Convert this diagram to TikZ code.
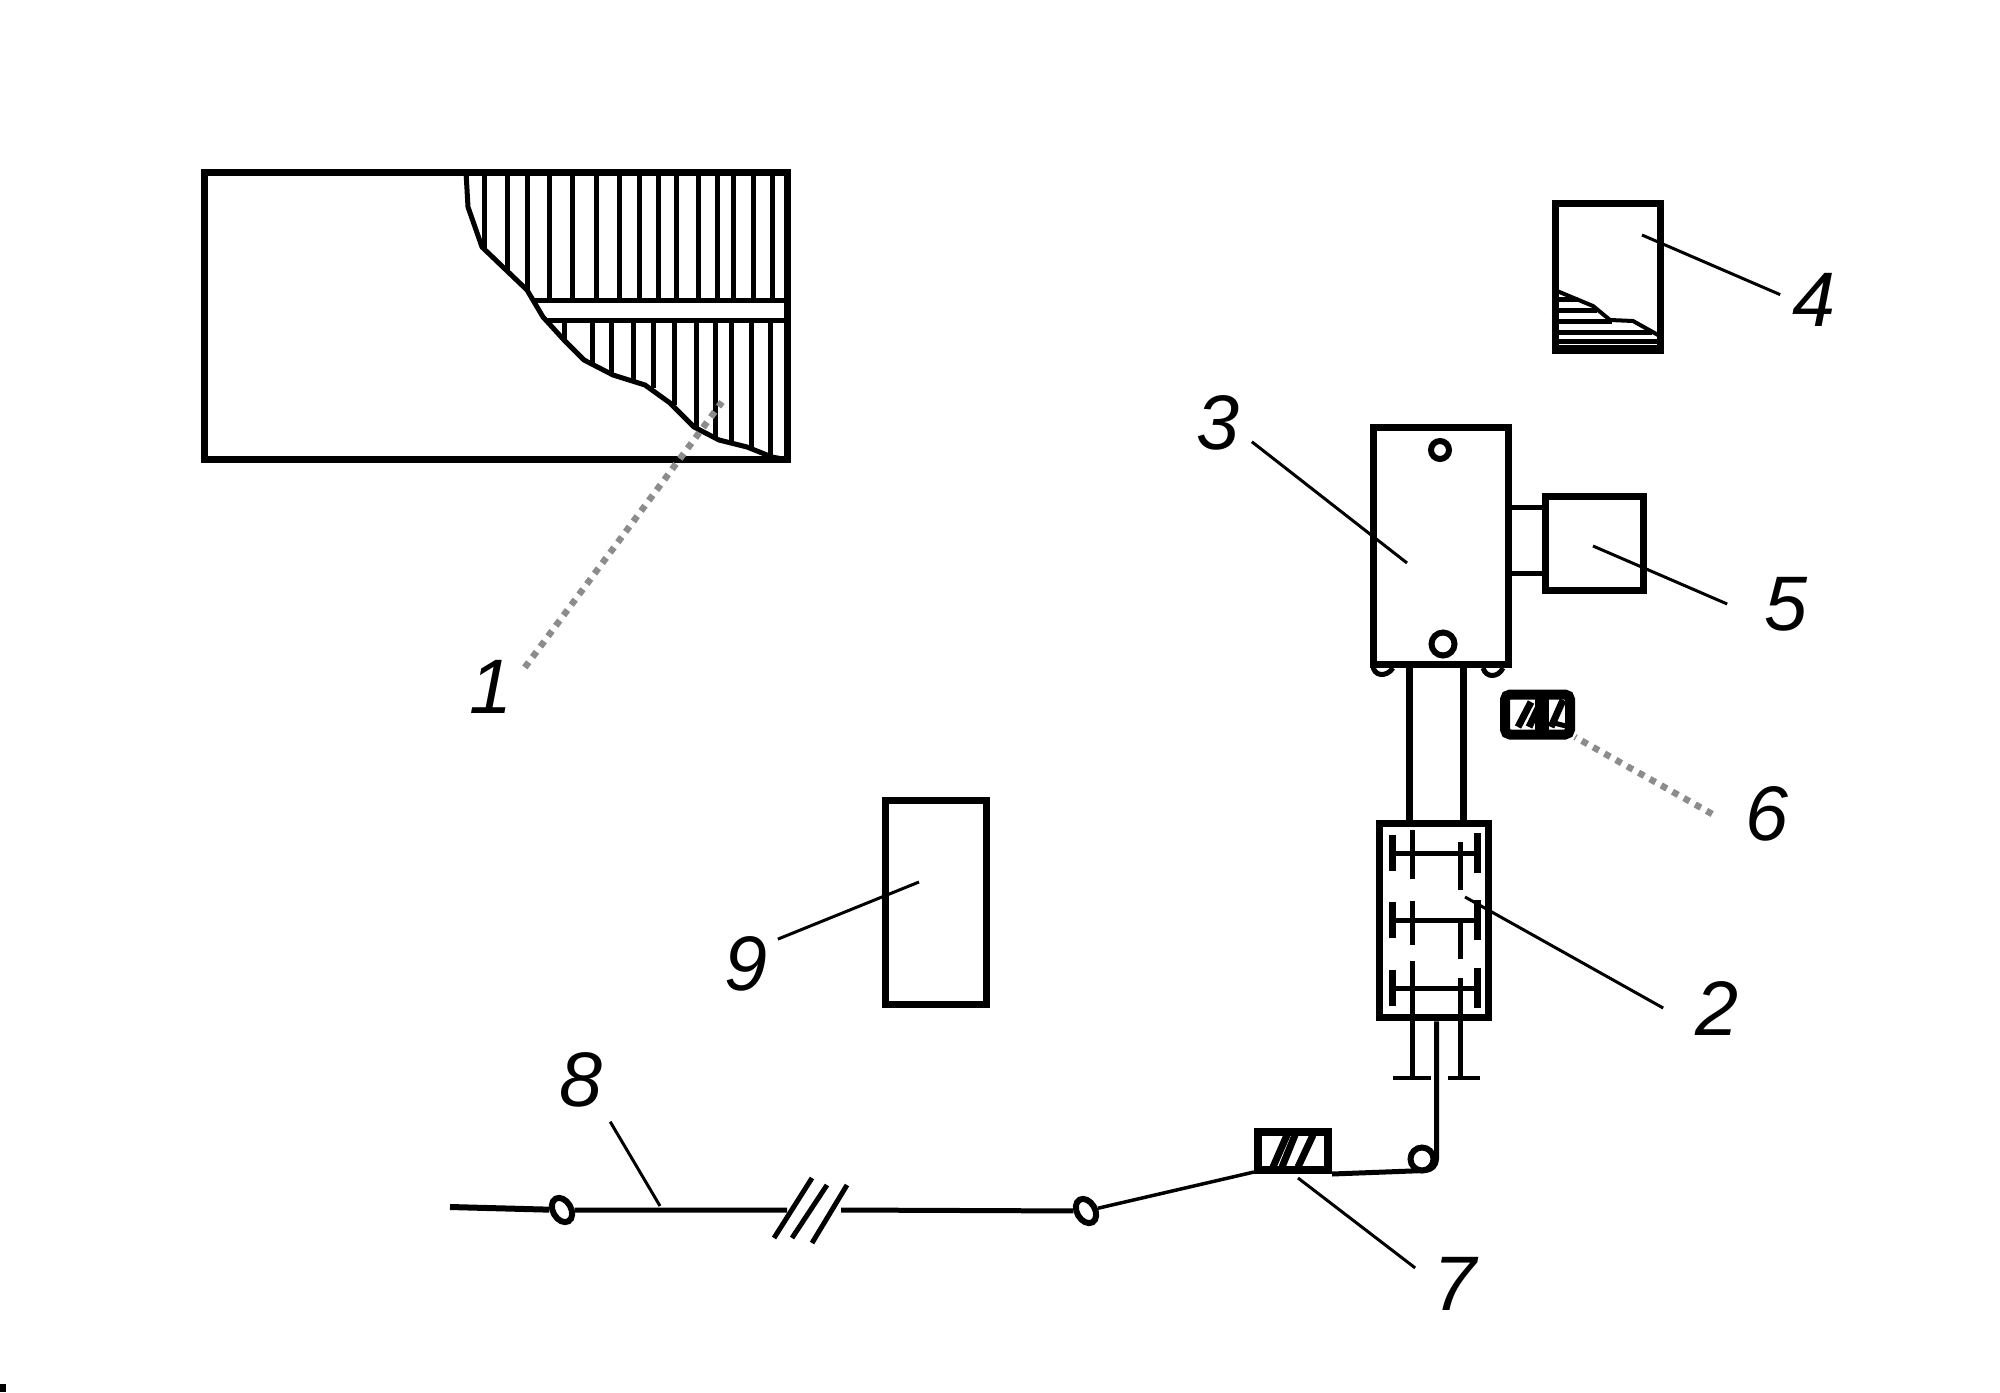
\documentclass[tikz,border=0pt]{standalone}
\usepackage{fontspec}
\setmainfont{Liberation Sans}
\usetikzlibrary{shapes.geometric}

\begin{document}
\begin{tikzpicture}[x=0.02cm, y=-0.02cm,
        outline/.style={draw, rectangle, line width=0.14cm, inner sep=0pt},
        roller/.style={draw, ellipse, line width=0.12cm, inner sep=0pt, minimum width=0.52cm, minimum height=0.36cm, rotate=-60},
        hatch/.style={line width=0.1cm},
        strand/.style={line width=0.1cm, line join=round},
        leader/.style={line width=0.06cm},
        dotleader/.style={line width=0.13cm, black!45, dash pattern=on 0.13cm off 0.13cm},
        numlabel/.style={font=\fontsize{44}{44}\selectfont\itshape, inner sep=0.24cm}]
        \useasboundingbox (0,0) rectangle (2000,1392);
        \fill (0,1384) rectangle (6,1392);

        \node (tank) [outline, minimum width=11.68cm, minimum height=5.76cm] at (496,316) {};
        \node (box_2) [outline, minimum width=2.18cm, minimum height=3.9cm] at (1433.5,920.5) {};
        \node (box_3) [outline, minimum width=2.7cm, minimum height=4.76cm] at (1440.5,546) {};
        \node (box_4) [outline, minimum width=2.1cm, minimum height=2.96cm] at (1607.5,277) {};
        \node (box_5) [outline, minimum width=1.96cm, minimum height=1.9cm] at (1594,543.5) {};
        \node (box_6) [outline, rounded corners=0.1cm, line width=0.2cm, minimum width=1.3cm, minimum height=0.8cm] at (1537.5,714.5) {};
        \node (box_7) [outline, line width=0.16cm, minimum width=1.4cm, minimum height=0.76cm] at (1293,1151) {};
        \node (box_9) [outline, minimum width=2.02cm, minimum height=4.1cm] at (935.5,902.5) {};
        \node (roller_a) [roller] at (562,1210) {};
        \node (roller_b) [roller] at (1086,1211) {};
        \node (roller_c) [circle, draw, line width=0.12cm, inner sep=0pt, minimum size=0.46cm] at (1422,1159) {};
        \node (hole_a) [circle, draw, line width=0.12cm, inner sep=0pt, minimum size=0.36cm] at (1440,450) {};
        \node (hole_b) [circle, draw, line width=0.12cm, inner sep=0pt, minimum size=0.46cm] at (1443,644) {};

        % hatching of the tank
        \draw[strand] (466,172) -- (468,207) -- (482,247) -- (527,290) -- (543,317) -- (564,340) -- (584,360) -- (613,375) -- (645,385) -- (670,403) -- (694,427) -- (719,440) -- (747,447) -- (772,457) -- (788,460);
        \draw[strand] (535,300) -- (788,300);
        \draw[strand] (548,320) -- (788,320);
        \foreach \hx/\hy in {484/249, 507/272, 527/290, 549/300, 572/300, 596/300, 619/300, 639/300, 658/300, 676/300, 698/300, 717/300, 733/300, 753/300, 772/300}
            \draw[hatch] (\hx,172) -- (\hx,\hy);
        \foreach \hx/\hy in {564/340, 592/364, 611/374, 633/381, 653/388, 674/405, 696/428, 715/438, 731/443, 751/448, 770/456}
            \draw[hatch] (\hx,320) -- (\hx,\hy);

        % hatching of box 4
        \draw[strand, line width=0.08cm] (1557,291) -- (1593,306) -- (1610,320) -- (1633,321) -- (1658,335);
        \foreach \hy/\hx in {299/1578, 310/1597, 321/1612, 332/1652, 341/1658}
            \draw[hatch] (box_4.west |- 0,\hy) -- (\hx,\hy);
        \draw[hatch, line width=0.16cm] (1557,349) -- (1658,349);

        % neck and rods
        \coordinate (neck_t) at (1520,507);
        \coordinate (neck_b) at (1520,573);
        \coordinate (rod_l) at (1409,0);
        \coordinate (rod_r) at (1463,0);
        \draw[strand] (box_3.east |- neck_t) -- (box_5.west |- neck_t);
        \draw[strand] (box_3.east |- neck_b) -- (box_5.west |- neck_b);
        \draw[outline] (rod_l |- box_3.south) -- (rod_l |- box_2.north);
        \draw[outline] (rod_r |- box_3.south) -- (rod_r |- box_2.north);
        \draw[strand] (1373,665) .. controls (1373,676) and (1386,678) .. (1393,668);
        \draw[strand] (1483,668) .. controls (1486,678) and (1498,678) .. (1503,668);

        % shafts in box 2
        \foreach \sy in {853,920,988} {
            \draw[hatch] (1392,\sy) -- (1477,\sy);
            \draw[hatch, line width=0.14cm] (1392,\sy-18) -- (1392,\sy+18);
            \draw[hatch, line width=0.14cm] (1477,\sy-20) -- (1477,\sy+20);
        }
        \foreach \ya/\yb in {830/879, 901/945, 961/1018}
            \draw[hatch] (1412,\ya) -- (1412,\yb);
        \foreach \ya/\yb in {842/890, 918/959, 978/1018}
            \draw[hatch] (1460,\ya) -- (1460,\yb);
        \coordinate (foot_l) at (1412,1078);
        \coordinate (foot_r) at (1460,1078);
        \draw[hatch] (box_2.south -| foot_l) -- (foot_l);
        \draw[hatch] (box_2.south -| foot_r) -- (foot_r);
        \draw[hatch, line width=0.07cm] (1393,1078) -- (1431,1078);
        \draw[hatch, line width=0.07cm] (1448,1078) -- (1480,1078);

        % strand from box 2 to the far end
        \coordinate (strand_end) at (450,1207);
        \coordinate (break_l) at (787,1210);
        \coordinate (break_r) at (841,1210);
        \draw[strand] (box_2.south -| roller_c.east) -- (roller_c.east) arc[start angle=0, end angle=-90, radius=0.23cm] -- (box_7.south east);
        \draw[strand, line width=0.07cm] (box_7.west) ++(0,21) -- (roller_b);
        \draw[strand] (roller_b) -- (break_r);
        \draw[strand] (break_l) -- (roller_a);
        \draw[strand, line width=0.12cm] (roller_a) -- (strand_end);
        \draw[hatch] (812,1178) -- (774,1238);
        \draw[hatch] (827,1185) -- (792,1238);
        \draw[hatch] (847,1185) -- (812,1243);

        % slashes in box 6 and box 7
        \draw[hatch, line width=0.14cm] (1518,727) -- (1531,702);
        \draw[hatch, line width=0.14cm] (1529,727) -- (1541,702);
        \fill (1535,698) rectangle (1549,732);
        \draw[hatch, line width=0.14cm] (1551,727) -- (1563,700);
        \draw[hatch] (1550,722) -- (1566,726);
        \draw[hatch, line width=0.14cm] (1273,1167) -- (1287,1135);
        \draw[hatch, line width=0.14cm] (1282,1167) -- (1295,1135);
        \draw[hatch, line width=0.14cm] (1298,1167) -- (1313,1135);

        % labels
        \node (lab_1) [numlabel] at (491,687) {1};
        \node (lab_2) [numlabel, inner sep=0.64cm] at (1717,1008) {2};
        \node (lab_3) [numlabel] at (1218,423) {3};
        \node (lab_4) [numlabel] at (1814,300) {4};
        \node (lab_5) [numlabel, inner sep=0.74cm] at (1786,604) {5};
        \node (lab_6) [numlabel, inner sep=0.66cm] at (1767,814) {6};
        \node (lab_7) [numlabel, inner sep=0.36cm] at (1455,1284) {7};
        \node (lab_8) [numlabel, inner sep=0.28cm] at (581,1080) {8};
        \node (lab_9) [numlabel, inner sep=0.2cm] at (746,964) {9};

        \coordinate (tip_1) at (722,402);
        \coordinate (tip_2) at (1465,897);
        \coordinate (tip_3) at (1407,563);
        \coordinate (tip_4) at (1642,235);
        \coordinate (tip_5) at (1593,546);
        \coordinate (tip_6) at (1575,737);
        \coordinate (tip_7) at (1298,1178);
        \coordinate (tip_8) at (660,1206);
        \coordinate (tip_9) at (919,882);

        \draw[dotleader] (lab_1.30) -- (tip_1);
        \draw[leader] (lab_2.west) -- (tip_2);
        \draw[leader] (lab_3.-29) -- (tip_3);
        \draw[leader] (lab_4.171) -- (tip_4);
        \draw[leader] (lab_5.west) -- (tip_5);
        \draw[dotleader] (lab_6.west) -- (tip_6);
        \draw[leader] (lab_7.158) -- (tip_7);
        \draw[leader] (lab_8.-55) -- (tip_8);
        \draw[leader] (lab_9.38) -- (tip_9);
    \end{tikzpicture}
\end{document}
